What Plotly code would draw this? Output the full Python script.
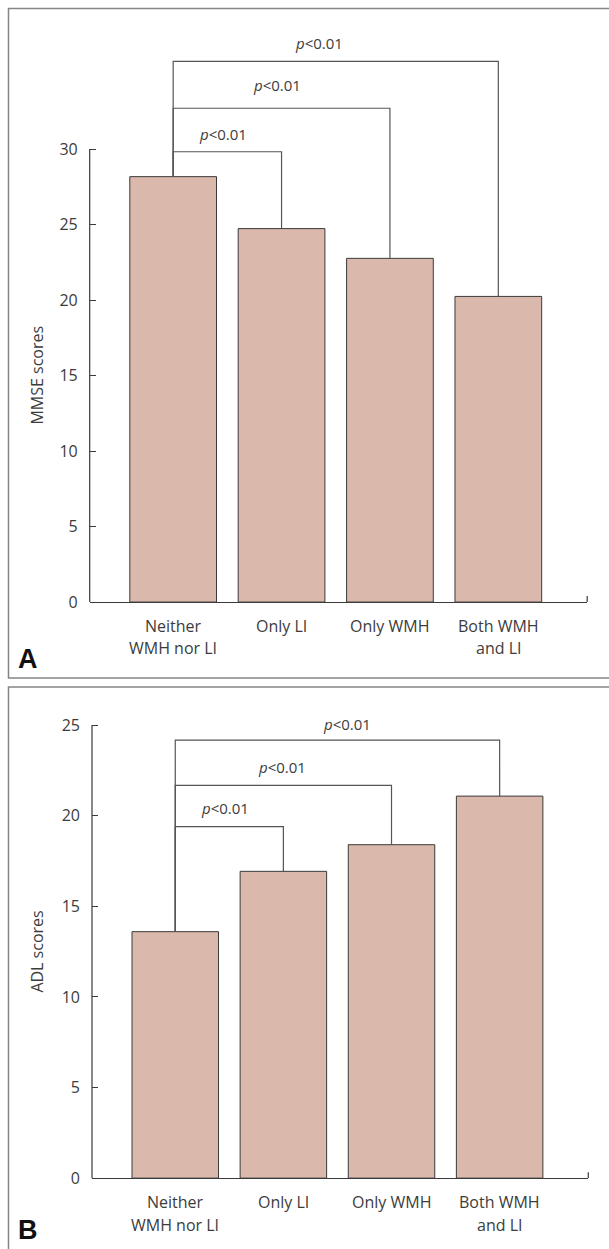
import plotly.graph_objects as go

# ---------------- data ----------------
categories = ["Neither<br>WMH nor LI", "Only LI", "Only WMH", "Both WMH<br>and LI"]
mmse_scores = [28.17, 24.73, 22.76, 20.24]
adl_scores = [13.6, 16.93, 18.4, 21.08]
# comparison brackets: (from group, to group) and bracket height
mmse_pairs = [(0, 1), (0, 2), (0, 3)]
mmse_bracket_h = [29.82, 32.7, 35.8]
adl_pairs = [(0, 1), (0, 2), (0, 3)]
adl_bracket_h = [19.4, 21.67, 24.17]
p_labels = ["<i>p</i>&lt;0.01", "<i>p</i>&lt;0.01", "<i>p</i>&lt;0.01"]
mmse_ticks = [0, 5, 10, 15, 20, 25, 30]
adl_ticks = [0, 5, 10, 15, 20, 25]

# ---------------- layout helpers ----------------
W, H = 609, 1249
K = 1.009                        # vertical stretch correction
def px_y(p):                     # screen pixel -> paper y
    return 1 - (p * K) / H
def px_x(p):                     # screen pixel -> paper x
    return p / W

BAR_COLOR = "#dab8ac"
LINE = "#3a3a3a"
TXT = "#3c3c3c"
FONT = "Open Sans"

fig = go.Figure()
xs = list(range(len(categories)))

# bars
fig.add_trace(go.Bar(x=xs, y=mmse_scores, width=0.8, marker=dict(color=BAR_COLOR, line=dict(color=LINE, width=1)),
                     xaxis="x", yaxis="y", showlegend=False, hoverinfo="skip"))
fig.add_trace(go.Bar(x=xs, y=adl_scores, width=0.8, marker=dict(color=BAR_COLOR, line=dict(color=LINE, width=1)),
                     xaxis="x2", yaxis="y2", showlegend=False, hoverinfo="skip"))

# brackets
def add_brackets(vals, pairs, heights, xa, ya):
    for (i, j), h in zip(pairs, heights):
        fig.add_trace(go.Scatter(x=[i, i, j, j], y=[vals[i], h, h, vals[j]], mode="lines",
                                 line=dict(color="#555555", width=1.2), xaxis=xa, yaxis=ya,
                                 showlegend=False, hoverinfo="skip", cliponaxis=False))

add_brackets(mmse_scores, mmse_pairs, mmse_bracket_h, "x", "y")
add_brackets(adl_scores, adl_pairs, adl_bracket_h, "x2", "y2")

# p-value label horizontal positions (layout)
mmse_lbl_x = [0.46, 0.96, 1.35]
adl_lbl_x = [0.46, 0.99, 1.59]
mmse_lbl_shift = [18, 23, 18]
adl_lbl_shift = [18, 18, 16]

annotations = []
for lx, h, t, s in zip(mmse_lbl_x, mmse_bracket_h, p_labels, mmse_lbl_shift):
    annotations.append(dict(x=lx, y=h, xref="x", yref="y", text=t, showarrow=False, yshift=s * K,
                            font=dict(family=FONT, size=15, color=TXT)))
for lx, h, t, s in zip(adl_lbl_x, adl_bracket_h, p_labels, adl_lbl_shift):
    annotations.append(dict(x=lx, y=h, xref="x2", yref="y2", text=t, showarrow=False, yshift=s * K,
                            font=dict(family=FONT, size=15, color=TXT)))

# category labels (two lines spaced like the original)
for xa, ya in (("x", "y"), ("x2", "y2")):
    for i, lab in enumerate(categories):
        for k, line in enumerate(lab.split("<br>")):
            annotations.append(dict(x=i, y=0, xref=xa, yref=ya, text=line, showarrow=False,
                                    yanchor="middle", yshift=-(24 + 22 * k) * K,
                                    font=dict(family=FONT, size=16, color=TXT)))

# axis titles
annotations.append(dict(x=px_x(37), y=15, xref="paper", yref="y", text="MMSE scores", textangle=-90,
                        xanchor="center", yanchor="middle",
                        showarrow=False, font=dict(family=FONT, size=16, color=TXT)))
annotations.append(dict(x=px_x(37), y=12.5, xref="paper", yref="y2", text="ADL scores", textangle=-90,
                        xanchor="center", yanchor="middle",
                        showarrow=False, font=dict(family=FONT, size=16, color=TXT)))
# panel letters
annotations.append(dict(x=px_x(16), y=px_y(659), xref="paper", yref="paper", text="<b>A</b>", xanchor="left",
                        yanchor="middle", showarrow=False, font=dict(family="Liberation Sans", size=27, color="#111111")))
annotations.append(dict(x=px_x(16), y=px_y(1230), xref="paper", yref="paper", text="<b>B</b>", xanchor="left",
                        yanchor="middle", showarrow=False, font=dict(family="Liberation Sans", size=27, color="#111111")))

shapes = []
# panel frames
shapes.append(dict(type="rect", xref="paper", yref="paper", x0=px_x(8.5), x1=1.05, y0=px_y(678), y1=px_y(8.5),
                   line=dict(color="#858585", width=1.5), layer="below"))
shapes.append(dict(type="rect", xref="paper", yref="paper", x0=px_x(8.5), x1=1.05, y0=-0.05, y1=px_y(687),
                   line=dict(color="#858585", width=1.5), layer="below"))
# y axis lines limited to tick range
shapes.append(dict(type="line", xref="x domain", yref="y", x0=0, x1=0, y0=0, y1=max(mmse_ticks),
                   line=dict(color=LINE, width=1.2)))
shapes.append(dict(type="line", xref="x2 domain", yref="y2", x0=0, x1=0, y0=0, y1=max(adl_ticks),
                   line=dict(color=LINE, width=1.2)))
# small end ticks on x axes
shapes.append(dict(type="line", xref="x domain", yref="y", x0=1, x1=1, y0=0, y1=0.4,
                   line=dict(color=LINE, width=1.2)))
shapes.append(dict(type="line", xref="x2 domain", yref="y2", x0=1, x1=1, y0=0, y1=0.33,
                   line=dict(color=LINE, width=1.2)))

xcommon = dict(range=[-0.77, 3.82], showline=True, linecolor=LINE, linewidth=1.2, ticks="",
               showticklabels=False, showgrid=False, zeroline=False, fixedrange=True)
ycommon = dict(showline=False, showgrid=False, zeroline=False, ticks="inside", ticklen=6, tickwidth=1.2,
               tickcolor=LINE, tickfont=dict(family=FONT, size=16, color=TXT), ticklabelstandoff=11,
               tickmode="array", fixedrange=True)

fig.update_layout(
    width=W, height=H, margin=dict(l=0, r=0, t=0, b=0),
    paper_bgcolor="white", plot_bgcolor="rgba(0,0,0,0)",
    xaxis=dict(domain=[px_x(89.7), px_x(587.2)], anchor="y", **xcommon),
    yaxis=dict(domain=[px_y(602), px_y(20)], range=[0, (602 - 20) / 15.1], anchor="x",
               tickvals=mmse_ticks, **ycommon),
    xaxis2=dict(domain=[px_x(92), px_x(588.3)], anchor="y2", **xcommon),
    yaxis2=dict(domain=[px_y(1178), px_y(700)], range=[0, (1178 - 700) / 18.12], anchor="x2",
                tickvals=adl_ticks, **ycommon),
    annotations=annotations, shapes=shapes, bargap=0.2,
)

fig.write_html("out.html", config={"displayModeBar": False},
               post_script="document.body.style.margin='0';document.body.style.overflow='hidden';")
